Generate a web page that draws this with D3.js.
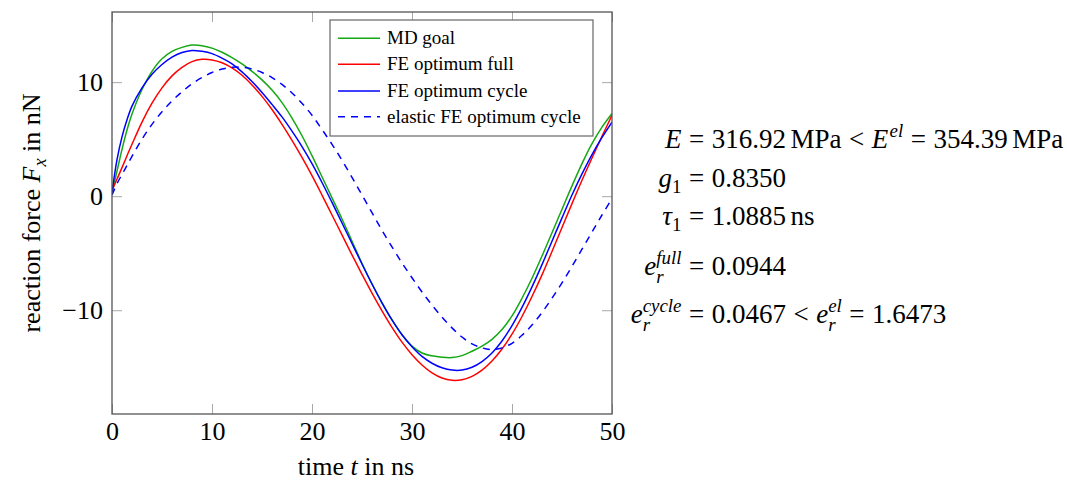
<!DOCTYPE html>
<html>
<head>
<meta charset="utf-8">
<script src="https://cdn.jsdelivr.net/npm/d3@7"></script>
<style>
  body { margin: 0; background: #fff; }
  svg { display: block; }
</style>
</head>
<body>
<svg id="chart" width="1067" height="482"></svg>
<script>
// ---------------- data ----------------
const times = [0, 0.5, 1, 1.5, 2, 3, 4, 5, 6, 7, 8, 9, 10, 11, 12, 13, 14, 15, 16, 17, 18, 19, 20,
  21, 22, 23, 24, 25, 26, 27, 28, 29, 30, 31, 32, 33, 34, 35, 36, 37, 38, 39, 40,
  41, 42, 43, 44, 45, 46, 47, 48, 49, 50];

const mdGoal = [0.3, 2.2, 4.1, 5.8, 7.2, 9.35, 10.95, 12.05, 12.7, 13.05, 13.25, 13.2, 12.98, 12.62, 12.15,
  11.6, 10.95, 10.2, 9.3, 8.2, 6.85, 5.3, 3.55, 1.7, -0.15, -2.0, -3.95, -5.9, -7.7, -9.35, -10.85,
  -12.15, -13.15, -13.75, -14.0, -14.12, -14.15, -13.98, -13.6, -13.15, -12.55, -11.7, -10.5, -8.95,
  -7.2, -5.25, -3.2, -1.15, 0.9, 2.85, 4.6, 6.05, 7.25];

const feFull = [0.5, 1.5, 2.5, 3.55, 4.55, 6.5, 8.15, 9.5, 10.55, 11.3, 11.8, 12.0, 11.95, 11.7, 11.25,
  10.6, 9.75, 8.75, 7.6, 6.3, 4.9, 3.4, 1.8, 0.1, -1.65, -3.4, -5.15, -6.85, -8.5, -10.05, -11.5,
  -12.8, -13.9, -14.8, -15.5, -15.95, -16.15, -16.1, -15.8, -15.25, -14.45, -13.4, -12.1, -10.55,
  -8.8, -6.9, -4.85, -2.75, -0.65, 1.4, 3.35, 5.25, 7.1];

const feCycle = [0.3, 3.2, 5.2, 6.7, 7.9, 9.5, 10.7, 11.55, 12.2, 12.6, 12.78, 12.7, 12.5, 12.1, 11.6,
  10.9, 10.05, 9.1, 8.05, 6.95, 5.7, 4.35, 2.85, 1.2, -0.55, -2.35, -4.15, -5.95, -7.7, -9.35, -10.85,
  -12.15, -13.2, -14.05, -14.65, -15.05, -15.25, -15.25, -15.0, -14.5, -13.75, -12.7, -11.35, -9.75,
  -7.95, -6.0, -3.95, -1.9, 0.1, 1.95, 3.65, 5.15, 6.5];

const elasticCycle = [0.1, 1.1, 1.9, 2.7, 3.5, 5.0, 6.3, 7.4, 8.35, 9.15, 9.85, 10.4, 10.85, 11.15, 11.3,
  11.3, 11.15, 10.85, 10.4, 9.8, 9.05, 8.15, 7.1, 5.85, 4.55, 3.15, 1.65, 0.1, -1.45, -3.0, -4.45,
  -5.85, -7.15, -8.4, -9.55, -10.6, -11.55, -12.35, -12.95, -13.3, -13.45, -13.3, -12.9, -12.2,
  -11.3, -10.2, -8.95, -7.6, -6.15, -4.65, -3.15, -1.65, -0.2];

const xTicks = [0, 10, 20, 30, 40, 50];
const yTicks = [-10, 0, 10];
const seriesNames = ["MD goal", "FE optimum full", "FE optimum cycle", "elastic FE optimum cycle"];

// ---------------- layout / style ----------------
const serif = "'Liberation Serif', 'Times New Roman', serif";
const M = { l: 112, r: 612, t: 12, b: 414 };
const colors = ["#14a814", "#ff0000", "#0000ff", "#0000ff"];
const dashes = [null, null, null, "7,6"];

const x = d3.scaleLinear().domain([0, 50]).range([M.l, M.r]);
const y = d3.scaleLinear().domain([-19.1, 16.15]).range([M.b, M.t]);

const svg = d3.select("#chart");

svg.append("defs").append("clipPath").attr("id", "plotclip")
  .append("rect").attr("x", M.l).attr("y", M.t).attr("width", M.r - M.l).attr("height", M.b - M.t);

function styleAxis(g) {
  g.attr("font-family", serif).attr("font-size", 26);
  g.select(".domain").remove();
  g.selectAll(".tick line").attr("stroke", "#a8a8a8").attr("stroke-width", 1);
  g.selectAll(".tick text").attr("fill", "#000");
}

svg.append("g").attr("transform", `translate(0,${M.b})`)
  .call(d3.axisBottom(x).tickValues(xTicks).tickSizeInner(-10).tickSizeOuter(0).tickPadding(8))
  .call(styleAxis);
svg.append("g").attr("transform", `translate(0,${M.t})`)
  .call(d3.axisTop(x).tickValues(xTicks).tickSizeInner(-10).tickSizeOuter(0).tickFormat(""))
  .call(styleAxis);
svg.append("g").attr("transform", `translate(${M.l},0)`)
  .call(d3.axisLeft(y).tickValues(yTicks).tickSizeInner(-10).tickSizeOuter(0).tickPadding(9))
  .call(styleAxis);
svg.append("g").attr("transform", `translate(${M.r},0)`)
  .call(d3.axisRight(y).tickValues(yTicks).tickSizeInner(-10).tickSizeOuter(0).tickFormat(""))
  .call(styleAxis);

// series
const allSeries = [mdGoal, feFull, feCycle, elasticCycle];
const plot = svg.append("g").attr("clip-path", "url(#plotclip)");
allSeries.forEach((vals, k) => {
  const line = d3.line()
    .x((d, i) => x(times[i]))
    .y(d => y(d))
    .curve(d3.curveCatmullRom.alpha(0.5));
  plot.append("path")
    .attr("d", line(vals))
    .attr("fill", "none")
    .attr("stroke", colors[k])
    .attr("stroke-width", 1.5)
    .attr("stroke-dasharray", dashes[k])
    .attr("stroke-linejoin", "round");
});

// frame
svg.append("rect").attr("x", M.l).attr("y", M.t).attr("width", M.r - M.l).attr("height", M.b - M.t)
  .attr("fill", "none").attr("stroke", "#555").attr("stroke-width", 1.3);

// legend
const lg = svg.append("g");
lg.append("rect").attr("x", 330).attr("y", 20).attr("width", 263).attr("height", 116)
  .attr("fill", "#fff").attr("stroke", "#666").attr("stroke-width", 1.2);
const rowY = [38.3, 64.3, 91, 116.7];
seriesNames.forEach((name, k) => {
  lg.append("line").attr("x1", 338).attr("x2", 380).attr("y1", rowY[k]).attr("y2", rowY[k])
    .attr("stroke", colors[k]).attr("stroke-width", 1.5).attr("stroke-dasharray", dashes[k]);
  lg.append("text").attr("x", 387).attr("y", rowY[k] + 6)
    .attr("font-family", serif).attr("font-size", 19).text(name);
});

// ---------------- math-like text helper ----------------
function runs(parent, items, fs, x0, y0, anchorEnd) {
  const g = parent.append("g").attr("font-family", serif);
  let cx = 0;
  items.forEach(r => {
    if (r.g !== undefined) { cx += r.g * fs; return; }
    if (r.t !== undefined) {
      const t = g.append("text").attr("x", cx).attr("y", 0).attr("font-size", fs)
        .attr("font-style", r.i ? "italic" : "normal").text(r.t);
      cx += t.node().getComputedTextLength();
      return;
    }
    const ss = fs * 0.7;
    let w = 0;
    const both = r.sup !== undefined && r.sub !== undefined;
    if (r.sup !== undefined) {
      const t = g.append("text").attr("x", cx + (r.k || 0) * fs).attr("y", -0.42 * fs).attr("font-size", ss)
        .attr("font-style", r.supI ? "italic" : "normal").text(r.sup);
      w = Math.max(w, t.node().getComputedTextLength() + (r.k || 0) * fs);
    }
    if (r.sub !== undefined) {
      const t = g.append("text").attr("x", cx).attr("y", (both ? 0.3 : 0.22) * fs).attr("font-size", ss)
        .attr("font-style", r.subI ? "italic" : "normal").text(r.sub);
      w = Math.max(w, t.node().getComputedTextLength());
    }
    cx += w;
  });
  g.attr("transform", `translate(${anchorEnd ? x0 - cx : x0},${y0})`);
  return cx;
}

// axis labels
const wsp = 0.25;
const xl = svg.append("g");
const xlw = runs(xl, [{ t: "time" }, { g: wsp }, { t: "t", i: 1 }, { g: wsp }, { t: "in" }, { g: wsp }, { t: "ns" }], 26, 0, 0, false);
xl.attr("transform", `translate(${356 - xlw / 2},475)`);

const yl = svg.append("g");
const ylw = runs(yl, [{ t: "reaction" }, { g: wsp }, { t: "force" }, { g: wsp }, { t: "F", i: 1 }, { sub: "x", subI: 1 },
  { g: wsp }, { t: "in" }, { g: wsp }, { t: "nN" }], 26, 0, 0, false);
yl.attr("transform", `translate(40,${213 + ylw / 2}) rotate(-90)`);

// annotation block
const fs = 27;
const eqX = 689;
const sp = 0.278, th = 0.167;
const ann = svg.append("g");
const rowsBase = [148, 187, 225, 275, 323];
const lhs = [
  [{ t: "E", i: 1 }],
  [{ t: "g", i: 1 }, { sub: "1" }],
  [{ t: "τ", i: 1 }, { sub: "1" }],
  [{ t: "e", i: 1 }, { sub: "r", subI: 1, sup: "full", supI: 1 }],
  [{ t: "e", i: 1 }, { sub: "r", subI: 1, sup: "cycle", supI: 1 }]
];
const rhs = [
  [{ t: "=" }, { g: sp }, { t: "316.92" }, { g: th }, { t: "MPa" }, { g: sp }, { t: "<" }, { g: sp },
   { t: "E", i: 1 }, { sup: "el", supI: 1, k: 0.05 }, { g: sp }, { t: "=" }, { g: sp }, { t: "354.39" }, { g: th }, { t: "MPa" }],
  [{ t: "=" }, { g: sp }, { t: "0.8350" }],
  [{ t: "=" }, { g: sp }, { t: "1.0885" }, { g: th }, { t: "ns" }],
  [{ t: "=" }, { g: sp }, { t: "0.0944" }],
  [{ t: "=" }, { g: sp }, { t: "0.0467" }, { g: sp }, { t: "<" }, { g: sp },
   { t: "e", i: 1 }, { sub: "r", subI: 1, sup: "el", supI: 1 }, { g: sp }, { t: "=" }, { g: sp }, { t: "1.6473" }]
];
lhs.forEach((items, k) => runs(ann, items, fs, eqX - sp * fs, rowsBase[k], true));
rhs.forEach((items, k) => runs(ann, items, fs, eqX, rowsBase[k], false));
</script>
</body>
</html>
